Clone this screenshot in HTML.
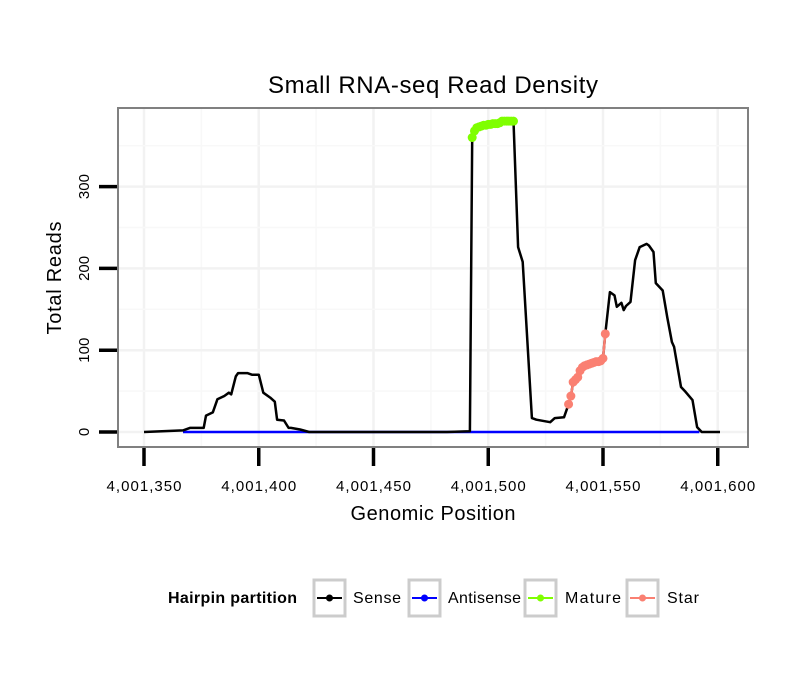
<!DOCTYPE html>
<html><head><meta charset="utf-8"><style>
body{margin:0;background:#fff;}
svg text{font-family:"Liberation Sans",sans-serif;}
</style></head><body>
<svg width="810" height="690" xmlns="http://www.w3.org/2000/svg">
<rect width="810" height="690" fill="#fff"/>
<text x="433" y="93" font-size="24" text-anchor="middle" textLength="330">Small RNA-seq Read Density</text>
<g id="grid"></g>
<g id="series"></g>
<rect x="118" y="108" width="630" height="339" fill="none" stroke="#808080" stroke-width="2"/>
<g id="axes"></g>
<text x="433" y="520" font-size="20" text-anchor="middle" textLength="165">Genomic Position</text>
<text transform="translate(61,278) rotate(-90)" font-size="20" text-anchor="middle" textLength="113">Total Reads</text>
<g>
<text x="168" y="603" font-size="16" font-weight="bold" textLength="129">Hairpin partition</text>
<g><rect x="314" y="580" width="31" height="36" fill="#fff" stroke="#ccc" stroke-width="3"/><line x1="317" x2="342" y1="598" y2="598" stroke="#000" stroke-width="2"/><circle cx="329.5" cy="598" r="3.5" fill="#000"/><text x="353" y="603" font-size="16" textLength="48">Sense</text></g>
<g><rect x="409" y="580" width="31" height="36" fill="#fff" stroke="#ccc" stroke-width="3"/><line x1="412" x2="437" y1="598" y2="598" stroke="#0000ff" stroke-width="2"/><circle cx="424.5" cy="598" r="3.5" fill="#0000ff"/><text x="448" y="603" font-size="16" textLength="73">Antisense</text></g>
<g><rect x="525" y="580" width="31" height="36" fill="#fff" stroke="#ccc" stroke-width="3"/><line x1="528" x2="553" y1="598" y2="598" stroke="#7fff00" stroke-width="2"/><circle cx="540.5" cy="598" r="3.5" fill="#7fff00"/><text x="565" y="603" font-size="16" textLength="56">Mature</text></g>
<g><rect x="627" y="580" width="31" height="36" fill="#fff" stroke="#ccc" stroke-width="3"/><line x1="630" x2="655" y1="598" y2="598" stroke="#fa8072" stroke-width="2"/><circle cx="642.5" cy="598" r="3.5" fill="#fa8072"/><text x="667" y="603" font-size="16" textLength="32">Star</text></g>
</g>
</svg>
<script>
const xTicks=[4001350,4001400,4001450,4001500,4001550,4001600];
const xTickLabels=["4,001,350","4,001,400","4,001,450","4,001,500","4,001,550","4,001,600"];
const yTicks=[0,100,200,300];
const sensePos=[4001350,4001367,4001370,4001376,4001377,4001380,4001382,4001385,4001387,4001388,4001390,4001391,4001395,4001397,4001400,4001402,4001405,4001407,4001408,4001411,4001413,4001414,4001418,4001422,4001482,4001492,4001493,4001494,4001496,4001500,4001505,4001506,4001511,4001513,4001515,4001519,4001521,4001527,4001529,4001533,4001535,4001536,4001537,4001538,4001539,4001541,4001545,4001549,4001550,4001551,4001553,4001555,4001556,4001558,4001559,4001560,4001562,4001564,4001566,4001569,4001570,4001572,4001573,4001576,4001578,4001580,4001581,4001584,4001586,4001589,4001591,4001593,4001601];
const senseVal=[0,2,5,5,20,24,40,44,48,46,68,72,72,70,70,48,42,37,15,14,5,5,3,0,0,1,360,368,373,376,377,380,380,226,208,17,15,12,17,18,34,44,61,64,67,79,84,87,90,120,171,167,153,158,149,154,159,210,226,230,228,220,182,173,140,110,104,55,49,39,6,0,0];
const antiPos=[4001367,4001592];
const antiVal=[0,0];
const maturePos=[4001493,4001494,4001495,4001496,4001497,4001498,4001499,4001500,4001501,4001502,4001503,4001504,4001505,4001506,4001507,4001508,4001509,4001510,4001511];
const matureVal=[360,368,372,373,374,375,375,376,376,377,377,377,378,380,380,380,380,380,380];
const starPos=[4001535,4001536,4001537,4001538,4001539,4001540,4001541,4001542,4001543,4001544,4001545,4001546,4001547,4001548,4001549,4001550,4001551];
const starVal=[34,44,61,64,67,75,79,81,82,83,84,85,86,86,87,90,120];
const NS='http://www.w3.org/2000/svg';
const X=p=>144+(p-4001350)*2.295;
const Y=v=>432-v*0.818;
function mk(t,a,parent){const e=document.createElementNS(NS,t);for(const k in a)e.setAttribute(k,a[k]);parent.appendChild(e);return e;}
const grid=document.getElementById('grid'),axes=document.getElementById('axes'),series=document.getElementById('series');
mk('rect',{x:118,y:108,width:630,height:339,fill:'#fff'},grid);
for(let i=0;i<xTicks.length;i++){
  const x=X(xTicks[i]);
  const g=mk('line',{x1:x,x2:x,y1:108,y2:447,stroke:'#f2f2f2','stroke-width':2.5},grid);
  
  
  if(i<xTicks.length-1){const m=X((xTicks[i]+xTicks[i+1])/2);mk('line',{x1:m,x2:m,y1:108,y2:447,stroke:'#f8f8f8','stroke-width':1.5},grid);}
  const t=mk('line',{x1:x,x2:x,y1:448,y2:466,stroke:'#000','stroke-width':3.5},axes);
  
  
  const l=mk('text',{x:x,y:491,'font-size':15,'text-anchor':'middle',textLength:75},axes);
  l.textContent=xTickLabels[i];
  
  
}
for(let i=0;i<yTicks.length;i++){
  const y=Y(yTicks[i]);
  const g=mk('line',{x1:118,x2:748,y1:y,y2:y,stroke:'#f2f2f2','stroke-width':2.5},grid);
  
  
  const m=Y(yTicks[i]+50);mk('line',{x1:118,x2:748,y1:m,y2:m,stroke:'#f8f8f8','stroke-width':1.5},grid);
  const t=mk('line',{x1:99,x2:117,y1:y,y2:y,stroke:'#000','stroke-width':3.5},axes);
  
  
  const l=mk('text',{transform:`translate(89,${y}) rotate(-90)`,'font-size':15,'text-anchor':'middle'},axes);
  l.textContent=String(yTicks[i]);
  
  
}
function line(ps,vs,color,name){
  const d=ps.map((p,i)=>(i?'L':'M')+X(p).toFixed(1)+','+Y(vs[i]).toFixed(1)).join('');
  const e=mk('path',{d:d,fill:'none',stroke:color,'stroke-width':2.5,'stroke-linejoin':'round'},series);
  
  
}
function pts(ps,vs,color,name){
  ps.forEach((p,i)=>{const c=mk('circle',{cx:X(p),cy:Y(vs[i]),r:4.5,fill:color},series);
  
  });
}
line(antiPos,antiVal,'#0000ff','antisense-line');
line(sensePos,senseVal,'#000','sense-line');
line(maturePos,matureVal,'#7fff00','mature-line');
pts(maturePos,matureVal,'#7fff00','mature-point');
line(starPos,starVal,'#fa8072','star-line');
pts(starPos,starVal,'#fa8072','star-point');
</script>
</body></html>
